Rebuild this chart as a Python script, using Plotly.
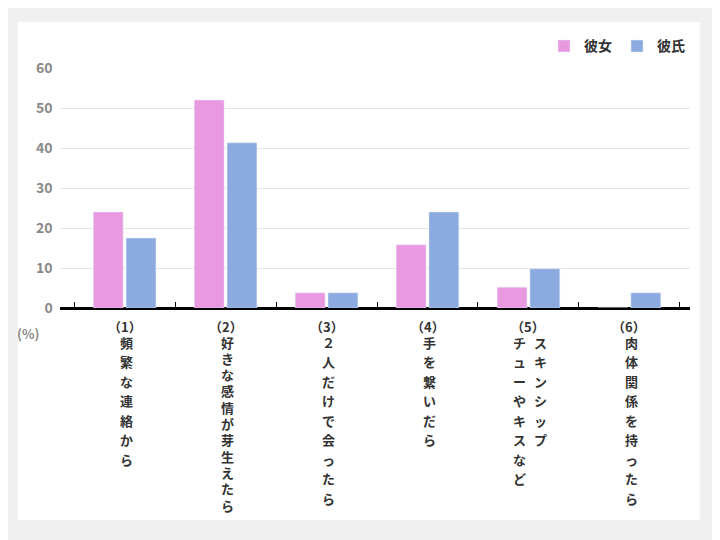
import plotly.graph_objects as go

nums = ["（1）", "（2）", "（3）", "（4）", "（5）", "（6）"]
labels = [["頻繁な連絡から"], ["好きな感情が芽生えたら"], ["２人だけで会ったら"],
          ["手を繋いだら"], ["スキンシップ", "チューやキスなど"], ["肉体関係を持ったら"]]
kanojo = [24, 52, 3.8, 15.8, 5.2, 0]
kareshi = [17.5, 41.3, 3.8, 24, 9.8, 3.8]
x = list(range(len(nums)))

fig = go.Figure()
fig.add_bar(x=x, y=kanojo, name="彼女", marker_color="#e899e0")
fig.add_bar(x=x, y=kareshi, name="彼氏", marker_color="#8aaae0")

ann = []
for i, (n, lab) in enumerate(zip(nums, labels)):
    ann.append(dict(x=i, y=0, yshift=-18, xref="x", yref="paper", text="<b>%s</b>" % n, showarrow=False,
                    yanchor="middle", font=dict(size=13, color="#333")))
    k = len(lab)
    step = 16.3 if len(lab[0]) > 10 else 19.5
    for j, col in enumerate(lab):
        off = (k - 1) / 2 - j
        for c, ch in enumerate(col):
            ann.append(dict(x=i, xshift=off * 21 + 2, y=0, yshift=-34 - c * step, xref="x", yref="paper",
                            text="<b>%s</b>" % ch, showarrow=False, yanchor="middle",
                            font=dict(size=13, color="#333")))
ann.append(dict(x=-0.03, y=0, yshift=-25, xref="paper", yref="paper", text="<b>(%)</b>", showarrow=False,
                xanchor="right", yanchor="middle", font=dict(size=13, color="#888")))

fig.update_layout(
    width=712, height=532, paper_bgcolor="#f0f0f0", plot_bgcolor="white",
    margin=dict(l=52, r=30, t=60, b=232),
    barmode="group", bargap=0.35, bargroupgap=0.09,
    font=dict(family="Noto Sans CJK JP"),
    legend=dict(orientation="h", x=1.0, xanchor="right", y=1.09, yanchor="middle",
                font=dict(size=14, color="#333", weight="bold"), bgcolor="rgba(0,0,0,0)"),
    xaxis=dict(range=[-0.64, 5.6], tickvals=[i - 0.5 for i in range(7)], showticklabels=False,
               ticks="inside", ticklen=6, tickcolor="black", showgrid=False, zeroline=False,
               showline=False),
    yaxis=dict(range=[0, 60], dtick=10, gridcolor="#e6e6e6", zeroline=True, zerolinecolor="black",
               zerolinewidth=3, tickfont=dict(size=14, color="#888", family="Noto Sans CJK JP", weight="bold"),
               ticksuffix="  ", tickformat="d"),
    annotations=ann,
    shapes=[dict(type="rect", xref="paper", yref="paper", x0=-0.0667, x1=1.0159, y0=-0.883, y1=1.1917,
                 fillcolor="white", line_width=0, layer="below")],
)
fig.write_html("out.html")
